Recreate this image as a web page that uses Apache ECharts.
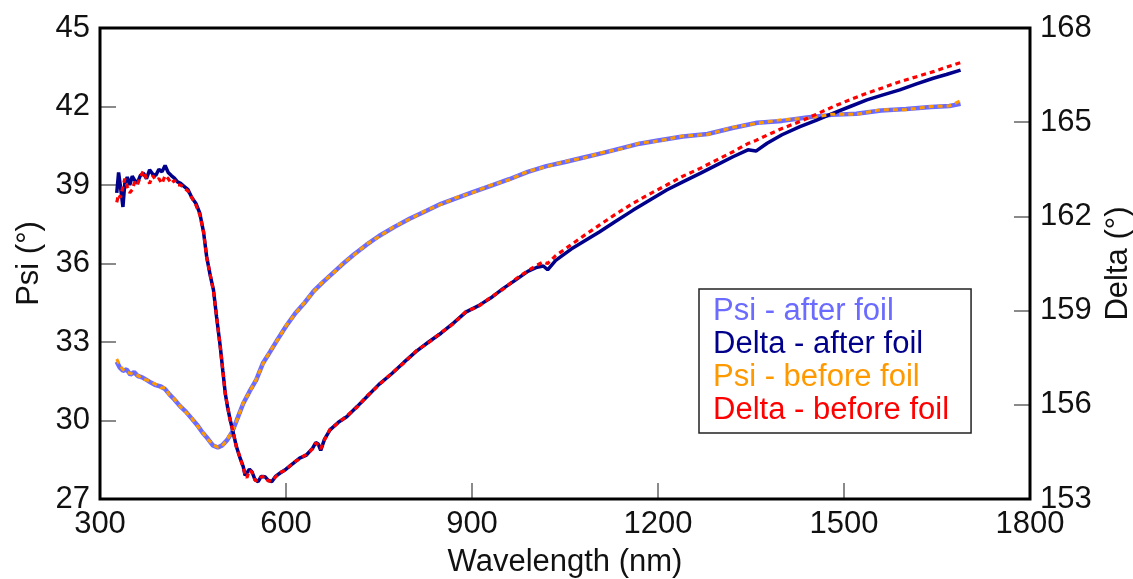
<!DOCTYPE html>
<html>
<head>
<meta charset="utf-8">
<script src="https://cdn.jsdelivr.net/npm/echarts@6/dist/echarts.min.js"></script>
<style>
html,body{margin:0;padding:0;background:#fff;}
#chart{width:1133px;height:579px;}
</style>
</head>
<body>
<div id="chart"></div>
<script>
// ---- Data ----
const psiWl = [327,332,337,343,349,355,361,368,375,382,390,398,405,412,420,429,438,447,456,465,474,482,490,497,505,513,522,531,541,552,563,575,587,600,615,630,645,660,675,690,710,730,750,775,800,825,850,875,900,930,960,990,1020,1050,1080,1110,1140,1170,1200,1240,1280,1320,1360,1400,1440,1480,1520,1560,1600,1640,1670,1688];
const psiAfter = [32.25,32.02,31.9,31.95,31.75,31.85,31.7,31.65,31.55,31.45,31.35,31.3,31.2,31.0,30.8,30.55,30.35,30.1,29.85,29.55,29.3,29.05,28.97,29.05,29.25,29.55,30.1,30.65,31.1,31.55,32.2,32.65,33.12,33.6,34.1,34.5,34.95,35.3,35.62,35.95,36.35,36.72,37.05,37.4,37.72,38.0,38.28,38.5,38.72,38.97,39.22,39.5,39.72,39.88,40.05,40.22,40.4,40.58,40.7,40.85,40.95,41.18,41.38,41.45,41.58,41.68,41.72,41.85,41.9,41.98,42.02,42.1];
const psiBefore = [32.35,32.1,31.95,31.85,31.8,31.75,31.72,31.6,31.55,31.48,31.38,31.25,31.25,30.98,30.82,30.55,30.33,30.12,29.83,29.57,29.28,29.07,28.98,29.02,29.27,29.57,30.08,30.67,31.08,31.57,32.18,32.67,33.1,33.62,34.08,34.52,34.93,35.32,35.6,35.97,36.33,36.74,37.03,37.42,37.7,38.02,38.26,38.52,38.7,38.99,39.2,39.52,39.7,39.9,40.03,40.24,40.38,40.6,40.68,40.87,40.93,41.2,41.36,41.5,41.55,41.7,41.7,41.88,41.88,42.0,42.02,42.22];

const deltaWl = [327,330,333,337,340,344,348,352,356,360,365,370,375,380,385,390,395,400,405,410,415,420,425,430,436,442,448,455,461,467,472,478,483,488,494,498,502,506,510,515,520,526,531,534,537,541,545,550,555,560,566,571,577,583,590,600,612,622,633,643,648,652,656,662,671,685,698,715,730,750,770,790,810,830,850,870,890,910,930,950,970,990,1005,1015,1022,1035,1060,1080,1106,1130,1160,1187,1214,1240,1268,1295,1321,1345,1358,1376,1400,1429,1455,1482,1510,1537,1563,1590,1617,1644,1665,1688];
const deltaAfter = [162.75,163.4,162.95,162.3,163.05,163.25,163.0,163.28,163.15,163.05,163.3,163.38,163.2,163.48,163.35,163.3,163.5,163.42,163.62,163.4,163.3,163.22,163.1,163.05,162.95,162.85,162.6,162.4,162.1,161.5,160.72,160.1,159.66,158.8,157.85,157.1,156.37,155.9,155.52,155.1,154.67,154.3,154.03,153.75,153.71,153.95,153.87,153.62,153.55,153.72,153.71,153.6,153.55,153.72,153.82,153.95,154.14,154.3,154.4,154.62,154.8,154.75,154.55,154.9,155.2,155.45,155.62,155.95,156.25,156.65,156.98,157.35,157.7,158.0,158.28,158.6,158.95,159.15,159.4,159.7,159.97,160.25,160.38,160.42,160.3,160.6,160.96,161.2,161.51,161.82,162.2,162.52,162.84,163.1,163.37,163.64,163.9,164.12,164.08,164.33,164.6,164.86,165.06,165.28,165.5,165.71,165.87,166.03,166.22,166.4,166.52,166.66];
const deltaBefore = [162.45,162.7,162.6,162.95,163.2,162.95,162.75,162.85,163.1,163.0,163.25,163.45,163.2,163.05,163.3,163.15,163.2,163.05,163.3,163.2,163.05,163.15,163.0,163.0,162.9,162.8,162.6,162.35,162.05,161.52,160.7,160.12,159.62,158.82,157.83,157.12,156.35,155.92,155.5,155.12,154.65,154.32,154.0,153.78,153.68,153.92,153.85,153.6,153.57,153.7,153.73,153.58,153.57,153.7,153.84,153.93,154.16,154.28,154.42,154.6,154.78,154.72,154.6,154.88,155.22,155.43,155.65,155.93,156.27,156.63,157.0,157.33,157.72,157.98,158.3,158.58,158.97,159.13,159.42,159.68,160.0,160.27,160.45,160.55,160.5,160.75,161.1,161.38,161.73,162.05,162.42,162.72,163.0,163.28,163.53,163.8,164.06,164.32,164.42,164.59,164.8,165.02,165.25,165.49,165.72,165.92,166.1,166.29,166.45,166.61,166.75,166.9];

const xTicks = {min: 300, max: 1800, interval: 300};
const psiTicks = {min: 27, max: 45, interval: 3};
const deltaTicks = {min: 153, max: 168, interval: 3};

const names = ['Psi - after foil', 'Delta - after foil', 'Psi - before foil', 'Delta - before foil'];
const colors = ['#6b6bff', '#00008b', '#ff9900', '#ff0000'];

function pairs(xs, ys) { return xs.map((x, i) => [x, ys[i]]); }

const FONT = 'Liberation Sans, Arial, sans-serif';
const chart = echarts.init(document.getElementById('chart'), null, {renderer: 'canvas'});

const tickStyle = {show: true, inside: true, length: 16, lineStyle: {color: '#8a8a8a', width: 2}};
const labelStyle = {color: '#111', fontSize: 31, fontFamily: FONT, margin: 10, formatter: v => String(v)};

chart.setOption({
  animation: false,
  backgroundColor: '#fff',
  grid: {
    left: 100, right: 103, top: 28, bottom: 80,
    show: true, borderColor: '#000', borderWidth: 3, z: 5,
    backgroundColor: 'transparent',
    outerBoundsMode: 'none'
  },
  legend: {
    orient: 'vertical',
    left: 699, top: 289,
    padding: [7, 22, 7, 8],
    itemGap: 2,
    itemWidth: 0, itemHeight: 0,
    borderColor: '#222', borderWidth: 1.5,
    backgroundColor: '#fff',
    selectedMode: false,
    textStyle: {fontSize: 31, fontFamily: FONT},
    data: names.map((n, i) => ({name: n, textStyle: {color: colors[i]}}))
  },
  xAxis: {
    type: 'value',
    min: xTicks.min, max: xTicks.max, interval: xTicks.interval,
    name: 'Wavelength (nm)', nameLocation: 'middle', nameGap: 48,
    nameTextStyle: {fontSize: 31, fontFamily: FONT, color: '#111'},
    axisLine: {show: false},
    axisTick: tickStyle,
    axisLabel: labelStyle,
    splitLine: {show: false}
  },
  yAxis: [{
    type: 'value', position: 'left',
    min: psiTicks.min, max: psiTicks.max, interval: psiTicks.interval,
    name: 'Psi (°)', nameLocation: 'middle', nameGap: 54, nameRotate: 90,
    nameTextStyle: {fontSize: 31, fontFamily: FONT, color: '#111'},
    axisLine: {show: false},
    axisTick: tickStyle,
    axisLabel: labelStyle,
    splitLine: {show: false}
  }, {
    type: 'value', position: 'right',
    min: deltaTicks.min, max: deltaTicks.max, interval: deltaTicks.interval,
    name: 'Delta (°)', nameLocation: 'middle', nameGap: 70, nameRotate: 90,
    nameTextStyle: {fontSize: 31, fontFamily: FONT, color: '#111'},
    axisLine: {show: false},
    axisTick: tickStyle,
    axisLabel: labelStyle,
    splitLine: {show: false}
  }],
  series: [
    {name: names[0], type: 'line', yAxisIndex: 0, data: pairs(psiWl, psiAfter), showSymbol: false, symbol: 'none',
     lineStyle: {color: colors[0], width: 4.5}, itemStyle: {color: colors[0]}, z: 2},
    {name: names[1], type: 'line', yAxisIndex: 1, data: pairs(deltaWl, deltaAfter), showSymbol: false, symbol: 'none',
     lineStyle: {color: colors[1], width: 3.5}, itemStyle: {color: colors[1]}, z: 2},
    {name: names[2], type: 'line', yAxisIndex: 0, data: pairs(psiWl, psiBefore), showSymbol: false, symbol: 'none',
     lineStyle: {color: colors[2], width: 3, type: [5, 4]}, itemStyle: {color: colors[2]}, z: 3},
    {name: names[3], type: 'line', yAxisIndex: 1, data: pairs(deltaWl, deltaBefore), showSymbol: false, symbol: 'none',
     lineStyle: {color: colors[3], width: 3.2, type: [5, 4]}, itemStyle: {color: colors[3]}, z: 3}
  ]
});
</script>
</body>
</html>
